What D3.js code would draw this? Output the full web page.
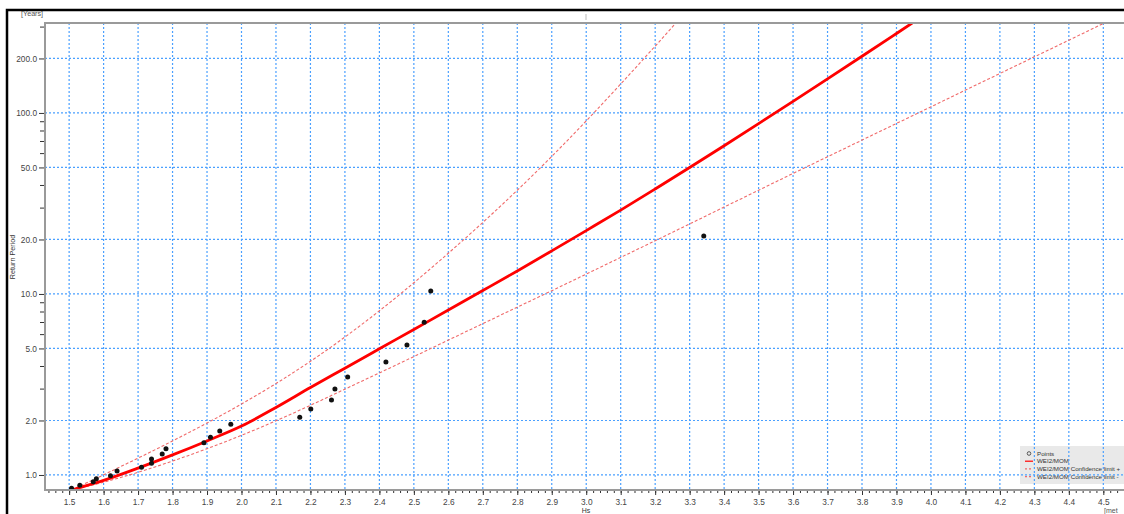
<!DOCTYPE html>
<html>
<head>
<meta charset="utf-8">
<script src="https://cdn.jsdelivr.net/npm/d3@7"></script>
<style>
  body { margin: 0; background: #fff; }
  svg { display: block; font-family: "Liberation Sans", Arial, sans-serif; }
</style>
</head>
<body>
<div id="chart"></div>
<script>
// observed points (Hs [m], return period [years])
const pointHs = [1.507, 1.531, 1.570, 1.579, 1.620, 1.639, 1.710, 1.739, 1.739, 1.770, 1.781,
  1.891, 1.910, 1.937, 1.969, 2.169, 2.201, 2.261, 2.271, 2.308, 2.419, 2.480, 2.530, 2.549, 3.341];
const pointRp = [0.844, 0.877, 0.918, 0.954, 0.991, 1.052, 1.103, 1.160, 1.226, 1.306, 1.397,
  1.508, 1.615, 1.750, 1.906, 2.084, 2.315, 2.597, 2.987, 3.48, 4.21, 5.23, 6.98, 10.39, 20.9];

// WEI2/MOM fit
const fitHs = [1.507, 1.6, 1.7, 1.8, 1.9, 2.0, 2.1, 2.2, 2.3, 2.4, 2.5, 2.6, 2.7,
  2.8, 2.9, 3.0, 3.1, 3.2, 3.3, 3.4, 3.5, 3.6, 3.7, 3.8, 3.9, 3.953];
const fitRp = [0.826, 0.933, 1.091, 1.291, 1.542, 1.862, 2.360, 3.041, 3.890, 4.977, 6.368, 8.147, 10.44,
  13.40, 17.30, 22.39, 29.04, 38.02, 50.00, 65.92, 87.30, 115.9, 154.2, 205.6, 274.8, 320.6];

// confidence limit +
const upperHs = [1.507, 1.6, 1.7, 1.8, 1.9, 2.0, 2.1, 2.2, 2.3, 2.4, 2.5, 2.6, 2.7,
  2.8, 2.9, 3.0, 3.1, 3.2, 3.3];
const upperRp = [0.826, 1.002, 1.239, 1.542, 1.936, 2.466, 3.199, 4.246, 5.781, 8.072, 11.53, 16.79, 24.83,
  37.41, 57.54, 90.36, 144.5, 233.9, 381.1];

// confidence limit -
const lowerHs = [1.507, 1.6, 1.7, 1.8, 1.9, 2.0, 2.1, 2.2, 2.3, 2.4, 2.5, 2.6, 2.7, 2.8, 2.9, 3.0,
  3.1, 3.2, 3.3, 3.4, 3.5, 3.6, 3.7, 3.8, 3.9, 4.0, 4.1, 4.2, 4.3, 4.4, 4.5, 4.56];
const lowerRp = [0.826, 0.912, 1.035, 1.194, 1.396, 1.656, 1.991, 2.427, 2.979, 3.664, 4.508, 5.559, 6.855, 8.453, 10.42, 12.88,
  15.92, 19.68, 24.38, 30.20, 37.41, 46.34, 57.28, 70.79, 87.50, 108.1, 133.7, 165.2, 204.2, 252.3, 311.9, 354];

const yMajor = [1, 2, 5, 10, 20, 50, 100, 200];
const yMinor = [3, 4, 6, 7, 8, 9, 30, 40, 60, 70, 80, 90, 300];
const xMajor = d3.range(15, 46).map((d) => d / 10);
const xMinor = d3.range(72, 229).map((d) => d / 50);

const legendLabels = ["Points", "WEI2/MOM", "WEI2/MOM Confidence limit +", "WEI2/MOM Confidence limit -"];

const W = 1124, H = 514;
const plot = { left: 45, top: 23, right: 1124, bottom: 490 };

const x = d3.scaleLinear().domain([1.43, 4.56]).range([plot.left, plot.right]);
const y = d3.scaleLog().domain([0.826, 314]).range([plot.bottom, plot.top]);

const svg = d3.select("#chart").append("svg").attr("width", W).attr("height", H);
svg.append("rect").attr("width", W).attr("height", H).attr("fill", "#fff");

svg.append("clipPath").attr("id", "clip")
  .append("rect")
  .attr("x", plot.left).attr("y", plot.top)
  .attr("width", plot.right - plot.left).attr("height", plot.bottom - plot.top);

// legend sits under the grid (grid shows through it)
const legend = svg.append("g").attr("transform", "translate(1020,446)");
legend.append("rect").attr("width", 110).attr("height", 38).attr("fill", "#e9e9e9");
const lg = legend.selectAll("g.item").data(legendLabels).join("g")
  .attr("transform", (d, i) => `translate(0,${7.5 + i * 7.7})`);
lg.filter((d, i) => i === 0).append("circle")
  .attr("cx", 9).attr("cy", 0).attr("r", 1.8)
  .attr("fill", "none").attr("stroke", "#555").attr("stroke-width", 1);
lg.filter((d, i) => i === 1).append("line")
  .attr("x1", 5).attr("x2", 13).attr("stroke", "#f00").attr("stroke-width", 1.2);
lg.filter((d, i) => i > 1).append("line")
  .attr("x1", 5).attr("x2", 13).attr("stroke", "#f06a6a").attr("stroke-width", 1.2)
  .attr("stroke-dasharray", "2,2");
lg.append("text").attr("x", 17).attr("dy", "0.35em")
  .attr("font-size", 6.2).attr("fill", "#333").text((d) => d);

// grid
const grid = svg.append("g").attr("clip-path", "url(#clip)")
  .attr("stroke", "#4aa0ff").attr("stroke-width", 1.2).attr("stroke-dasharray", "2,2");
grid.selectAll("line.v").data(xMajor).join("line")
  .attr("x1", (d) => x(d)).attr("x2", (d) => x(d))
  .attr("y1", plot.top).attr("y2", plot.bottom);
grid.selectAll("line.h").data(yMajor).join("line")
  .attr("y1", (d) => y(d)).attr("y2", (d) => y(d))
  .attr("x1", plot.left).attr("x2", plot.right);

// curves
const curve = (xs, ys) => d3.line()
  .x((d, i) => x(xs[i])).y((d, i) => y(ys[i]))
  .curve(d3.curveMonotoneX)(xs);

const lines = svg.append("g").attr("clip-path", "url(#clip)").attr("fill", "none");
lines.append("path").attr("d", curve(upperHs, upperRp))
  .attr("stroke", "#f06a6a").attr("stroke-width", 1.1).attr("stroke-dasharray", "3,2");
lines.append("path").attr("d", curve(lowerHs, lowerRp))
  .attr("stroke", "#f06a6a").attr("stroke-width", 1.1).attr("stroke-dasharray", "3,2");
lines.append("path").attr("d", curve(fitHs, fitRp))
  .attr("stroke", "#ff0000").attr("stroke-width", 2.8);

svg.append("g").selectAll("circle").data(pointHs).join("circle")
  .attr("cx", (d) => x(d)).attr("cy", (d, i) => y(pointRp[i]))
  .attr("r", 2.5).attr("fill", "#111");

// axes
const tickFmt = (d) => d.toFixed(1);
const yAxisMajor = svg.append("g").attr("transform", `translate(${plot.left},0)`)
  .call(d3.axisLeft(y).tickValues(yMajor).tickFormat(tickFmt).tickSize(6).tickPadding(2));
const yAxisMinor = svg.append("g").attr("transform", `translate(${plot.left},0)`)
  .call(d3.axisLeft(y).tickValues(yMinor).tickFormat("").tickSize(5));
const xAxisMajor = svg.append("g").attr("transform", `translate(0,${plot.bottom})`)
  .call(d3.axisBottom(x).tickValues(xMajor).tickFormat(tickFmt).tickSize(5).tickPadding(4));
const xAxisMinor = svg.append("g").attr("transform", `translate(0,${plot.bottom})`)
  .call(d3.axisBottom(x).tickValues(xMinor).tickFormat("").tickSize(3));

[yAxisMajor, yAxisMinor, xAxisMajor, xAxisMinor].forEach((g) => {
  g.select(".domain").remove();
  g.selectAll(".tick line").attr("stroke", "#333");
  g.selectAll(".tick text").attr("fill", "#444").attr("font-size", 8.3)
    .attr("font-family", "Liberation Sans, Arial, sans-serif");
});

// plot frame (gray)
svg.append("path")
  .attr("d", `M${plot.right},${plot.top}H${plot.left}V${plot.bottom}H${plot.right}`)
  .attr("fill", "none").attr("stroke", "#9a9a9a").attr("stroke-width", 2);

// labels
svg.append("text").attr("x", 21).attr("y", 16).attr("font-size", 7.2).attr("fill", "#555").text("[Years]");
svg.append("text").attr("transform", "translate(15,257) rotate(-90)")
  .attr("text-anchor", "middle").attr("font-size", 7.2).attr("fill", "#333").text("Return Period");
svg.append("text").attr("x", 586).attr("y", 513).attr("text-anchor", "middle")
  .attr("font-size", 7).attr("fill", "#333").text("Hs");
svg.append("text").attr("x", 1104).attr("y", 513).attr("font-size", 7).attr("fill", "#555").text("[met");
svg.append("line").attr("x1", 586).attr("x2", 586).attr("y1", 14).attr("y2", 20)
  .attr("stroke", "#bbb").attr("stroke-width", 1);

// outer black frame
svg.append("path").attr("d", `M7,${H}V10H${W}`)
  .attr("fill", "none").attr("stroke", "#000").attr("stroke-width", 2.5);
</script>
</body>
</html>
